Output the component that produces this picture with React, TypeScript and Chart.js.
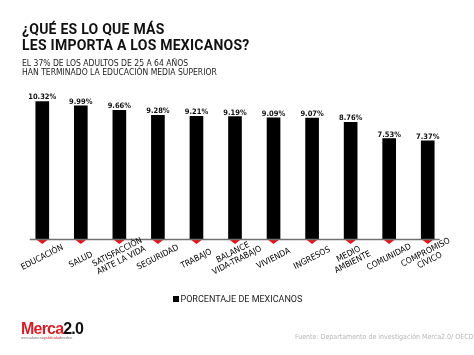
import React, { useEffect, useRef } from "react";
import { Chart, registerables } from "chart.js";

Chart.register(...registerables);

const categories: string[][] = [
  ["EDUCACIÓN"],
  ["SALUD"],
  ["SATISFACCIÓN", "ANTE LA VIDA"],
  ["SEGURIDAD"],
  ["TRABAJO"],
  ["BALANCE", "VIDA-TRABAJO"],
  ["VIVIENDA"],
  ["INGRESOS"],
  ["MEDIO", "AMBIENTE"],
  ["COMUNIDAD"],
  ["COMPROMISO", "CÍVICO"],
];
const values: number[] = [10.32, 9.99, 9.66, 9.28, 9.21, 9.19, 9.09, 9.07, 8.76, 7.53, 7.37];
const valueLabels: string[] = ["10.32%", "9.99%", "9.66%", "9.28%", "9.21%", "9.19%", "9.09%", "9.07%", "8.76%", "7.53%", "7.37%"];
const seriesName = "PORCENTAJE DE MEXICANOS";
const titleLines = ["¿QUÉ ES LO QUE MÁS", "LES IMPORTA A LOS MEXICANOS?"];
const subtitleLines = ["EL 37% DE LOS ADULTOS DE 25 A 64 AÑOS", "HAN TERMINADO LA EDUCACIÓN MEDIA SUPERIOR"];
const sourceText = "Fuente: Departamento de investigación Merca2.0/ OECD";

const NARROW = '"Liberation Sans Narrow", "DejaVu Sans Condensed", sans-serif';

const decorPlugin = {
  id: "decor",
  afterDatasetsDraw(chart: any) {
    const ctx: CanvasRenderingContext2D = chart.ctx;
    const xs = chart.scales.x;
    const ys = chart.scales.y;
    const base = ys.getPixelForValue(0);
    const meta = chart.getDatasetMeta(0);
    ctx.save();
    // red arrow tips
    meta.data.forEach((bar: any) => {
      const w = bar.width;
      ctx.fillStyle = "#e3141b";
      ctx.beginPath();
      ctx.moveTo(bar.x - w / 2, base);
      ctx.lineTo(bar.x + w / 2, base);
      ctx.lineTo(bar.x, base + 5);
      ctx.closePath();
      ctx.fill();
    });
    // baseline
    const first = xs.getPixelForValue(0);
    const last = xs.getPixelForValue(categories.length - 1);
    ctx.strokeStyle = "#707070";
    ctx.lineWidth = 1.5;
    ctx.beginPath();
    ctx.moveTo(first - 12.5, base + 0.5);
    ctx.lineTo(last + 12, base + 0.5);
    ctx.stroke();
    // value labels
    ctx.fillStyle = "#111";
    ctx.font = `bold 7.5px ${NARROW}`;
    ctx.textAlign = "center";
    ctx.textBaseline = "alphabetic";
    meta.data.forEach((bar: any, i: number) => {
      ctx.fillText(valueLabels[i], bar.x, bar.y - 2);
    });
    // category labels, rotated
    ctx.font = `8.5px ${NARROW}`;
    ctx.fillStyle = "#000";
    ctx.textBaseline = "middle";
    const ang = (-27 * Math.PI) / 180;
    categories.forEach((lines, i) => {
      const x = xs.getPixelForValue(i);
      const maxW = Math.max(...lines.map((l) => ctx.measureText(l).width));
      const cy = base + 24 - maxW * 0.12;
      ctx.save();
      ctx.translate(x, cy);
      ctx.rotate(ang);
      const lh = 9;
      lines.forEach((l, k) => {
        ctx.fillText(l, 0, (k - (lines.length - 1) / 2) * lh);
      });
      ctx.restore();
    });
    ctx.restore();
  },
};

export default function App() {
  const ref = useRef<HTMLCanvasElement>(null);
  useEffect(() => {
    document.body.style.margin = "0";
    const chart = new Chart(ref.current!, {
      type: "bar",
      data: {
        labels: categories.map((c) => c.join(" ")),
        datasets: [
          {
            label: seriesName,
            data: values,
            backgroundColor: "#000",
            barThickness: 13,
          },
        ],
      },
      options: {
        animation: false,
        responsive: false,
        devicePixelRatio: 1,
        layout: { padding: { left: 23, right: 27, top: 90, bottom: 116 } },
        scales: {
          x: { display: false },
          y: { display: false, min: 0, max: 11.18 },
        },
        plugins: { legend: { display: false }, tooltip: { enabled: false } },
      },
      plugins: [decorPlugin],
    });
    return () => chart.destroy();
  }, []);

  return (
    <div style={{ position: "relative", width: 474, height: 355, background: "#fff", overflow: "hidden" }}>
      <canvas ref={ref} width={474} height={355} style={{ position: "absolute", left: 0, top: 0 }} />
      <div
        style={{
          position: "absolute",
          left: 22,
          top: 20.5,
          font: "700 14px Roboto, sans-serif",
          lineHeight: "16px",
          letterSpacing: "0.25px",
          color: "#111",
          whiteSpace: "nowrap",
        }}
      >
        {titleLines.map((l) => (
          <div key={l}>{l}</div>
        ))}
      </div>
      <div
        style={{
          position: "absolute",
          left: 22,
          top: 58.5,
          font: `8.5px ${NARROW}`,
          lineHeight: "9.3px",
          color: "#222",
          whiteSpace: "nowrap",
        }}
      >
        {subtitleLines.map((l) => (
          <div key={l}>{l}</div>
        ))}
      </div>
      <div style={{ position: "absolute", left: 172.5, top: 296, width: 6, height: 6, background: "#000" }} />
      <div
        style={{
          position: "absolute",
          left: 180.5,
          top: 294.3,
          font: "9px Roboto, sans-serif",
          lineHeight: "10px",
          color: "#222",
          whiteSpace: "nowrap",
        }}
      >
        {seriesName}
      </div>
      <div
        style={{
          position: "absolute",
          left: 21,
          top: 321,
          font: '700 16px "Liberation Sans", Arial, sans-serif',
          lineHeight: "16px",
          letterSpacing: "-0.8px",
          whiteSpace: "nowrap",
        }}
      >
        <span style={{ color: "#d31f26" }}>Merca</span>
        <span style={{ color: "#111" }}>2.0</span>
      </div>
      <div
        style={{
          position: "absolute",
          left: 21,
          top: 335.5,
          font: '3.6px "Liberation Sans", sans-serif',
          lineHeight: "4px",
          color: "#777",
          whiteSpace: "nowrap",
        }}
      >
        mercadotecnia<span style={{ color: "#d31f26" }}>publicidad</span>medios
      </div>
      <div
        style={{
          position: "absolute",
          left: 295,
          top: 332.6,
          font: `7px ${NARROW}`,
          lineHeight: "8px",
          color: "#b5b5b5",
          whiteSpace: "nowrap",
        }}
      >
        {sourceText}
      </div>
    </div>
  );
}
